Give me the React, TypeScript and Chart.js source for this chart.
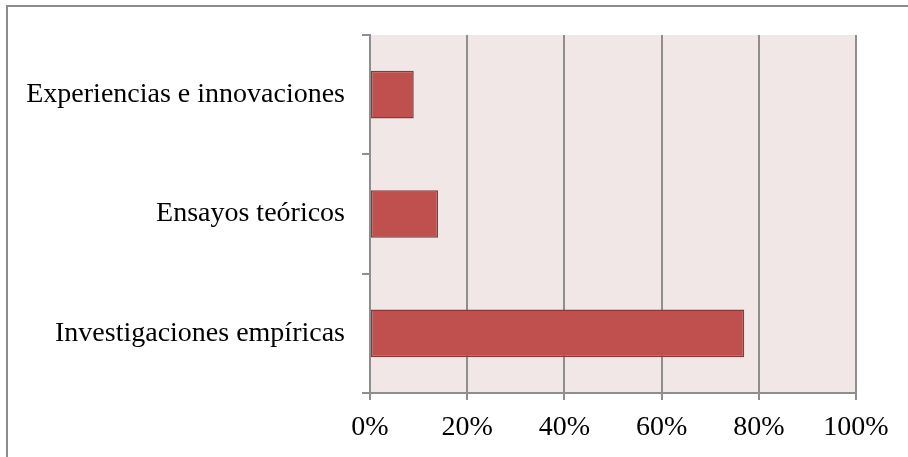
import React, { useEffect, useRef } from "react";
import { Chart, registerables } from "chart.js";

Chart.register(...registerables);

const categories = ["Experiencias e innovaciones", "Ensayos teóricos", "Investigaciones empíricas"];
const values = [9, 14, 77];
const xTicks = [0, 20, 40, 60, 80, 100];

const FONT = "'Liberation Serif', 'Times New Roman', serif";

const bgPlugin = {
  id: "bgPlugin",
  beforeDraw(chart: any) {
    const { ctx, chartArea } = chart;
    ctx.save();
    ctx.fillStyle = "#ffffff";
    ctx.fillRect(0, 0, chart.width, chart.height);
    ctx.fillStyle = "#F2E7E7";
    ctx.fillRect(chartArea.left, chartArea.top, chartArea.right - chartArea.left, chartArea.bottom - chartArea.top);
    ctx.strokeStyle = "#8C8C8C";
    ctx.lineWidth = 2;
    ctx.strokeRect(7, 6, chart.width + 20, chart.height + 20);
    ctx.restore();
  },
};

export default function App() {
  const ref = useRef<HTMLCanvasElement>(null);
  useEffect(() => {
    document.body.style.margin = "0";
    const chart = new Chart(ref.current!, {
      type: "bar",
      data: {
        labels: categories,
        datasets: [
          {
            data: values,
            backgroundColor: "#C0504D",
            borderColor: "#8C3836",
            borderWidth: 1.5,
            borderSkipped: false,
            barPercentage: 0.4,
            categoryPercentage: 1,
          },
        ],
      },
      options: {
        indexAxis: "y",
        responsive: false,
        animation: false,
        layout: { padding: { left: 0, top: 35, right: 52, bottom: 0 } },
        plugins: { legend: { display: false }, tooltip: { enabled: false } },
        scales: {
          x: {
            type: "linear",
            min: 0,
            max: 100,
            afterBuildTicks(scale: any) {
              scale.ticks = xTicks.map((v) => ({ value: v }));
            },
            afterFit(scale: any) {
              scale.height = 64;
            },
            grid: { color: "#8E8E8E", lineWidth: 2, tickLength: 7 },
            border: { color: "#8E8E8E", width: 2 },
            ticks: {
              callback: (v: any) => v + "%",
              font: { family: FONT, size: 28 },
              color: "#000000",
              padding: 11,
              maxRotation: 0,
            },
          },
          y: {
            type: "category",
            afterFit(scale: any) {
              scale.width = 370;
            },
            grid: { display: true, drawOnChartArea: false, color: "#8E8E8E", lineWidth: 2, tickLength: 8, offset: true },
            border: { color: "#8E8E8E", width: 2 },
            ticks: {
              font: { family: FONT, size: 28 },
              color: "#000000",
              padding: 17,
            },
          },
        },
      },
      plugins: [bgPlugin],
    });
    return () => chart.destroy();
  }, []);
  return (
    <div style={{ width: 908, height: 457 }}>
      <canvas ref={ref} width={908} height={457} style={{ display: "block" }} />
    </div>
  );
}
